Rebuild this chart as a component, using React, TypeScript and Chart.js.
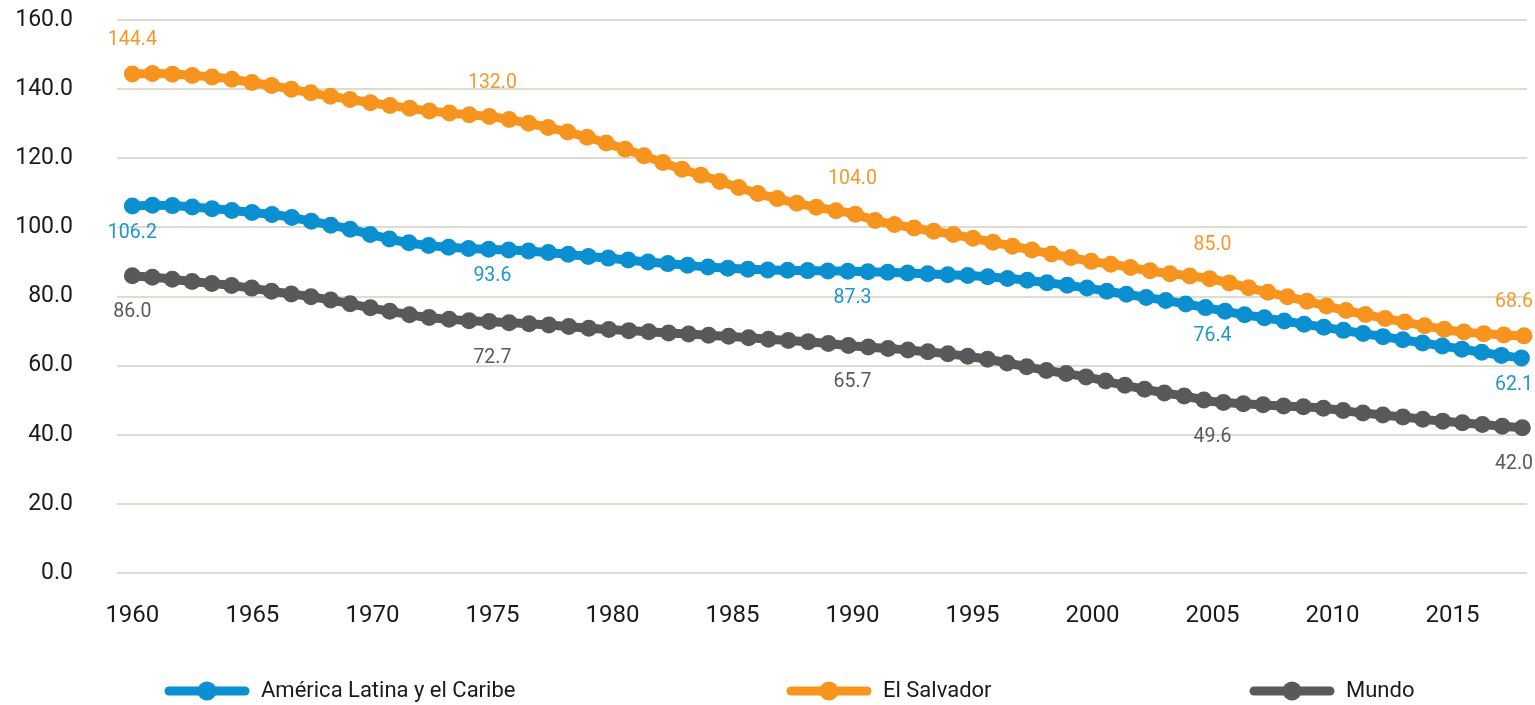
import React, { useEffect, useRef } from 'react';
import { Chart, registerables } from 'chart.js';

Chart.register(...registerables);

const YEARS = [
  1960, 1961, 1962, 1963, 1964, 1965, 1966, 1967, 1968, 1969,
  1970, 1971, 1972, 1973, 1974, 1975, 1976, 1977, 1978, 1979,
  1980, 1981, 1982, 1983, 1984, 1985, 1986, 1987, 1988, 1989,
  1990, 1991, 1992, 1993, 1994, 1995, 1996, 1997, 1998, 1999,
  2000, 2001, 2002, 2003, 2004, 2005, 2006, 2007, 2008, 2009,
  2010, 2011, 2012, 2013, 2014, 2015, 2016, 2017, 2018,
];

const X_TICKS = [1960, 1965, 1970, 1975, 1980, 1985, 1990, 1995, 2000, 2005, 2010, 2015];
const Y_TICKS = [0, 20, 40, 60, 80, 100, 120, 140, 160];
const LABEL_YEARS = [1960, 1975, 1990, 2005, 2018];

const ALC = [
  106.2, 106.4, 106.2, 105.6, 105.0, 104.3, 103.6, 102.4, 101.0, 99.6,
  97.8, 96.2, 95.0, 94.3, 93.9, 93.6, 93.4, 92.9, 92.3, 91.6,
  91.0, 90.3, 89.7, 89.1, 88.5, 88.1, 87.8, 87.6, 87.5, 87.4,
  87.3, 87.1, 86.9, 86.6, 86.3, 86.0, 85.5, 84.9, 84.1, 83.2,
  82.2, 81.1, 80.0, 78.9, 77.7, 76.4, 75.1, 74.0, 72.9, 71.8,
  70.7, 69.6, 68.5, 67.4, 66.3, 65.2, 64.1, 63.0, 62.1,
];

const EL_SALVADOR = [
  144.4, 144.5, 144.2, 143.7, 143.0, 141.9, 140.8, 139.5, 138.2, 137.1,
  136.0, 135.0, 134.0, 133.2, 132.6, 132.0, 130.8, 129.4, 127.8, 126.0,
  123.8, 121.5, 119.0, 116.6, 114.4, 112.1, 109.9, 108.1, 106.5, 105.2,
  104.0, 101.9, 100.5, 99.3, 98.2, 96.9, 95.5, 94.1, 92.7, 91.4,
  90.1, 89.1, 87.9, 86.8, 86.0, 85.0, 83.4, 81.7, 80.1, 78.5,
  76.8, 75.3, 73.9, 72.6, 71.3, 70.1, 69.4, 68.9, 68.6,
];

const MUNDO = [
  86.0, 85.5, 84.7, 84.0, 83.3, 82.4, 81.3, 80.4, 79.3, 78.0,
  76.6, 75.4, 74.2, 73.5, 73.0, 72.7, 72.3, 71.9, 71.4, 70.8,
  70.4, 70.0, 69.6, 69.2, 68.8, 68.4, 67.9, 67.4, 67.0, 66.4,
  65.7, 65.2, 64.7, 64.1, 63.4, 62.5, 61.4, 60.0, 58.7, 57.6,
  56.4, 54.8, 53.4, 52.1, 51.0, 49.6, 49.1, 48.7, 48.3, 48.0,
  47.4, 46.5, 45.8, 45.1, 44.3, 43.7, 43.1, 42.5, 42.0,
];

const SERIES_NAMES = ['América Latina y el Caribe', 'El Salvador', 'Mundo'];
const SERIES_VALUES = [ALC, EL_SALVADOR, MUNDO];
const SERIES_COLORS = ['#0A8FD0', '#F7941E', '#58595B'];
const LABEL_COLORS = ['#1E95CF', '#F59A2A', '#58595B'];
const LABEL_OFFSETS = [27, -34, 36];
const LEGEND_X = [165, 787, 1250];

const FONT = 'Roboto, "DejaVu Sans", sans-serif';

const valueLabels = {
  id: 'valueLabels',
  afterDatasetsDraw(chart: any) {
    const ctx = chart.ctx;
    ctx.save();
    ctx.font = `19.5px ${FONT}`;
    ctx.textAlign = 'center';
    ctx.textBaseline = 'middle';
    SERIES_VALUES.forEach((vals, si) => {
      const meta = chart.getDatasetMeta(si * 2);
      LABEL_YEARS.forEach((yr) => {
        const idx = YEARS.indexOf(yr);
        const el = meta.data[idx];
        if (!el) return;
        const text = vals[idx].toFixed(1);
        const w = ctx.measureText(text).width;
        const x = Math.min(el.x, chart.chartArea.right + 6 - w / 2);
        ctx.fillStyle = LABEL_COLORS[si];
        ctx.fillText(text, x, el.y + LABEL_OFFSETS[si]);
      });
    });
    ctx.restore();
  },
};

const customLegend = {
  id: 'customLegend',
  afterDraw(chart: any) {
    const ctx = chart.ctx;
    const y = 691;
    ctx.save();
    SERIES_NAMES.forEach((name, i) => {
      const x0 = LEGEND_X[i];
      const color = SERIES_COLORS[i];
      ctx.strokeStyle = color;
      ctx.lineWidth = 9;
      ctx.lineCap = 'round';
      ctx.beginPath();
      ctx.moveTo(x0 + 4, y);
      ctx.lineTo(x0 + 80, y);
      ctx.stroke();
      ctx.fillStyle = color;
      ctx.beginPath();
      ctx.arc(x0 + 42, y, 9.5, 0, Math.PI * 2);
      ctx.fill();
      ctx.fillStyle = '#1a1a1a';
      ctx.font = `22px ${FONT}`;
      ctx.textAlign = 'left';
      ctx.textBaseline = 'middle';
      ctx.fillText(name, x0 + 96, y);
    });
    ctx.restore();
  },
};

export default function App() {
  const canvasRef = useRef<HTMLCanvasElement | null>(null);

  useEffect(() => {
    if (!canvasRef.current) return;
    const datasets: any[] = [];
    SERIES_VALUES.forEach((vals, si) => {
      const pts = YEARS.map((yr, i) => ({ x: yr, y: vals[i] }));
      datasets.push({
        label: SERIES_NAMES[si],
        data: pts,
        borderColor: SERIES_COLORS[si],
        backgroundColor: SERIES_COLORS[si],
        borderWidth: 9,
        borderCapStyle: 'round',
        borderJoinStyle: 'round',
        pointRadius: 0,
        fill: false,
        tension: 0.2,
        clip: false,
      });
      datasets.push({
        label: SERIES_NAMES[si] + ' ',
        data: pts,
        borderColor: SERIES_COLORS[si],
        backgroundColor: SERIES_COLORS[si],
        borderWidth: 17,
        borderDash: [0, 20],
        borderCapStyle: 'round',
        borderJoinStyle: 'round',
        pointRadius: 0,
        fill: false,
        tension: 0.2,
        clip: false,
      });
    });

    const chart = new Chart(canvasRef.current, {
      type: 'line',
      data: { datasets },
      options: {
        responsive: false,
        animation: false,
        events: [],
        layout: { padding: { top: 20, right: 8, bottom: 0, left: 0 } },
        plugins: {
          legend: { display: false },
          tooltip: { enabled: false },
        },
        scales: {
          x: {
            type: 'linear',
            min: 1959.36,
            max: 2018.1,
            afterBuildTicks: (scale: any) => {
              scale.ticks = X_TICKS.map((v) => ({ value: v }));
            },
            afterFit: (scale: any) => {
              scale.height = 132;
              scale.paddingLeft = 0;
              scale.paddingRight = 0;
            },
            grid: { display: false },
            border: { display: false },
            ticks: {
              autoSkip: false,
              maxRotation: 0,
              padding: 21,
              color: '#1a1a1a',
              font: { family: FONT, size: 24 },
              callback: (v: any) => String(v),
            },
          },
          y: {
            min: 0,
            max: 160,
            afterBuildTicks: (scale: any) => {
              scale.ticks = Y_TICKS.map((v) => ({ value: v }));
            },
            afterFit: (scale: any) => {
              scale.width = 117;
              scale.paddingTop = 0;
              scale.paddingBottom = 0;
            },
            grid: { color: '#DCDCD0', lineWidth: 2, drawTicks: false },
            border: { display: false },
            ticks: {
              padding: 44,
              color: '#1a1a1a',
              font: { family: FONT, size: 23 },
              callback: (v: any) => Number(v).toFixed(1),
            },
          },
        },
      },
      plugins: [valueLabels, customLegend],
    });
    return () => chart.destroy();
  }, []);

  return (
    <div style={{ position: 'fixed', left: 0, top: 0, width: 1535, height: 705, background: '#fff' }}>
      <canvas ref={canvasRef} width={1535} height={705} />
    </div>
  );
}
